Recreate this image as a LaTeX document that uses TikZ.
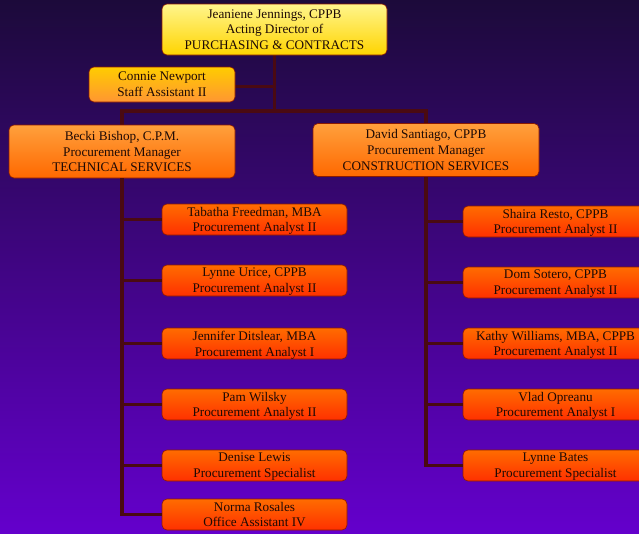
\documentclass[tikz,border=0pt]{standalone}
\usepackage{fontspec}
\setmainfont{Liberation Serif}
\usepackage{tikz}
\definecolor{bgtop}{HTML}{1C0A3A}
\definecolor{bgbottom}{HTML}{6400CC}
\definecolor{linkred}{HTML}{4A0A12}
\definecolor{edgered}{HTML}{8B1A00}
\definecolor{inkdark}{HTML}{1E0A05}
\tikzstyle{box} = [draw=edgered, line width=0.6pt, rounded corners=5pt, align=center, text=inkdark, font=\fontsize{13.2pt}{15.8pt}\selectfont, inner sep=1pt, text depth=0pt]
\tikzstyle{chief} = [box, top color={rgb,255:red,255;green,245;blue,140}, bottom color={rgb,255:red,255;green,212;blue,0}, minimum width=225pt, minimum height=51pt]
\tikzstyle{staff} = [box, top color={rgb,255:red,255;green,204;blue,0}, bottom color={rgb,255:red,255;green,150;blue,50}, minimum width=146pt, minimum height=35pt]
\tikzstyle{manager} = [box, top color={rgb,255:red,255;green,160;blue,60}, bottom color={rgb,255:red,255;green,104;blue,0}, minimum width=226pt, minimum height=53pt]
\tikzstyle{analyst} = [box, top color={rgb,255:red,255;green,108;blue,0}, bottom color={rgb,255:red,255;green,48;blue,0}, minimum width=185pt, minimum height=31pt]
\tikzstyle{link} = [draw=linkred, line width=3.2pt]

\begin{document}
\begin{tikzpicture}[x=1pt, y=1pt]
		\shade [top color=bgtop, bottom color=bgbottom] (0,0) rectangle (639,-533);
		\useasboundingbox (0,0) rectangle (639,-533);

		\coordinate (split) at (274.5,-111);

		% connectors first, boxes on top
		\draw [link] (274.5,-29.5) -- (split);
		\draw [link] (162,-86.5) -- (274.5,-86.5);
		\draw [link] (122,-151.5) |- (split) -| (426,-150);

		\node [chief] (director) at (274.5,-29.5) {Jeaniene Jennings, CPPB\\Acting Director of\\PURCHASING \& CONTRACTS};
		\node [staff] (assistant) at (162,-84.5) {Connie Newport\\Staff Assistant II};
		\node [manager] (techmgr) at (122,-151.5) {Becki Bishop, C.P.M.\\Procurement Manager\\TECHNICAL SERVICES};
		\node [manager] (constmgr) at (426,-150) {David Santiago, CPPB\\Procurement Manager\\CONSTRUCTION SERVICES};

		\node [analyst] (tech1) at (254.5,-219.5) {Tabatha Freedman, MBA\\Procurement Analyst II};
		\node [analyst] (tech2) at (254.5,-280.5) {Lynne Urice, CPPB\\Procurement Analyst II};
		\node [analyst] (tech3) at (254.5,-343.5) {Jennifer Ditslear, MBA\\Procurement Analyst I};
		\node [analyst] (tech4) at (254.5,-404.5) {Pam Wilsky\\Procurement Analyst II};
		\node [analyst] (tech5) at (254.5,-465.5) {Denise Lewis\\Procurement Specialist};
		\node [analyst] (tech6) at (254.5,-514.5) {Norma Rosales\\Office Assistant IV};

		\node [analyst] (const1) at (555.5,-221.5) {Shaira Resto, CPPB\\Procurement Analyst II};
		\node [analyst] (const2) at (555.5,-282.5) {Dom Sotero, CPPB\\Procurement Analyst II};
		\node [analyst] (const3) at (555.5,-343.5) {Kathy Williams, MBA, CPPB\\Procurement Analyst II};
		\node [analyst] (const4) at (555.5,-404.5) {Vlad Opreanu\\Procurement Analyst I};
		\node [analyst] (const5) at (555.5,-465.5) {Lynne Bates\\Procurement Specialist};

		\draw [link] (techmgr.south) |- (tech6.west);
		\draw [link] (techmgr.south |- tech1.west) -- (tech1.west);
		\draw [link] (techmgr.south |- tech2.west) -- (tech2.west);
		\draw [link] (techmgr.south |- tech3.west) -- (tech3.west);
		\draw [link] (techmgr.south |- tech4.west) -- (tech4.west);
		\draw [link] (techmgr.south |- tech5.west) -- (tech5.west);

		\draw [link] (constmgr.south) |- (const5.west);
		\draw [link] (constmgr.south |- const1.west) -- (const1.west);
		\draw [link] (constmgr.south |- const2.west) -- (const2.west);
		\draw [link] (constmgr.south |- const3.west) -- (const3.west);
		\draw [link] (constmgr.south |- const4.west) -- (const4.west);
	\end{tikzpicture}
\end{document}
